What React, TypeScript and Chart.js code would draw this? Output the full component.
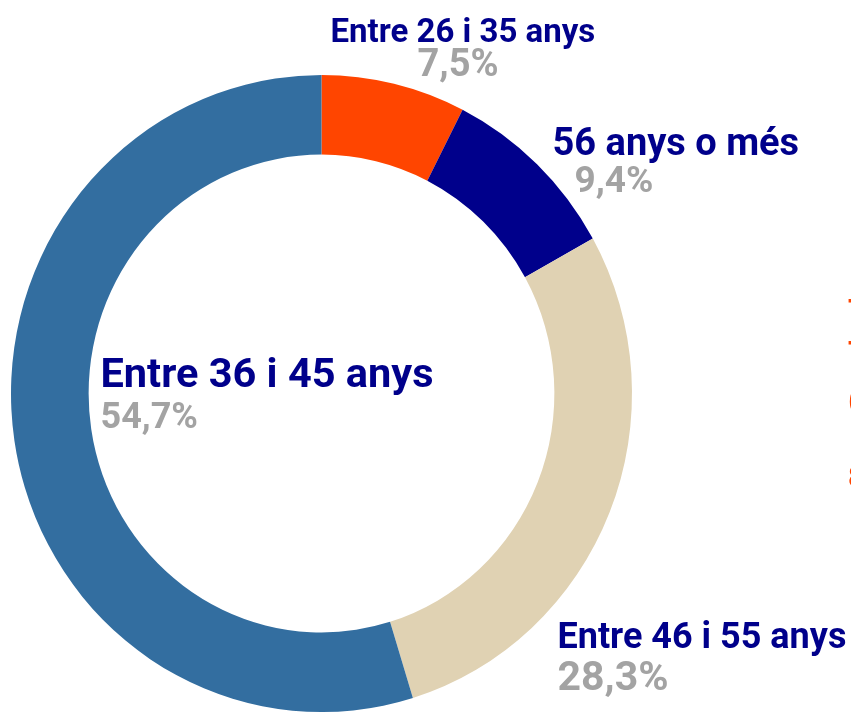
import React, { useEffect, useRef } from "react";
import { Chart, registerables } from "chart.js";

Chart.register(...registerables);

const categories = ["Entre 26 i 35 anys", "56 anys o més", "Entre 46 i 55 anys", "Entre 36 i 45 anys"];
const values = [7.5, 9.4, 28.3, 54.7];
const valueLabels = ["7,5%", "9,4%", "28,3%", "54,7%"];
const colors = ["#FF4500", "#00008B", "#E0D2B3", "#336EA0"];
const sideNotes = ["T", "T", "(", "8"];

// label placement (offsets from donut center) and font sizes
const labelSpec = [
  { dx: 9, dy: -351.5, size: 33, pdx: 96, pdy: -317.5, psize: 38 },
  { dx: 231, dy: -238.5, size: 38, pdx: 253, pdy: -201.5, psize: 37 },
  { dx: 236, dy: 254.5, size: 36, pdx: 236, pdy: 296.5, psize: 41 },
  { dx: -221, dy: -6.5, size: 41.5, pdx: -221, pdy: 34.5, psize: 36 },
];
const noteY = [320, 362, 410, 487];
const yStretch = 1.026;

const stretchPlugin = {
  id: "stretch",
  beforeDatasetsDraw(chart: any) {
    const arc = chart.getDatasetMeta(0).data[0];
    const ctx = chart.ctx;
    ctx.save();
    ctx.translate(0, arc.y);
    ctx.scale(1, yStretch);
    ctx.translate(0, -arc.y);
  },
  afterDatasetsDraw(chart: any) {
    chart.ctx.restore();
  },
};

const labelPlugin = {
  id: "labels",
  afterDraw(chart: any) {
    const ctx = chart.ctx;
    const meta = chart.getDatasetMeta(0);
    const arc = meta.data[0];
    const cx = arc.x;
    const cy = arc.y;
    ctx.save();
    ctx.textAlign = "left";
    ctx.textBaseline = "alphabetic";
    categories.forEach((c, i) => {
      const s = labelSpec[i];
      ctx.fillStyle = "#00008B";
      ctx.font = `bold ${s.size}px Roboto`;
      ctx.fillText(c, cx + s.dx, cy + s.dy);
      ctx.fillStyle = "#A3A3A3";
      ctx.font = `bold ${s.psize}px Roboto`;
      ctx.fillText(valueLabels[i], cx + s.pdx, cy + s.pdy);
    });
    ctx.fillStyle = "#FF4500";
    ctx.font = "bold 30px Roboto";
    sideNotes.forEach((t, i) => {
      ctx.fillText(t, 848, noteY[i]);
    });
    ctx.restore();
  },
};

export default function App() {
  const ref = useRef<HTMLCanvasElement>(null);
  useEffect(() => {
    const chart = new Chart(ref.current!, {
      type: "doughnut",
      data: {
        labels: categories,
        datasets: [
          {
            data: values,
            backgroundColor: colors,
            borderWidth: 0,
          },
        ],
      },
      options: {
        responsive: false,
        animation: false,
        cutout: "75%",
        layout: { padding: { left: 11, right: 219, top: 83, bottom: 9 } },
        plugins: { legend: { display: false }, tooltip: { enabled: false } },
      },
      plugins: [stretchPlugin, labelPlugin],
    });
    return () => chart.destroy();
  }, []);
  return (
    <div style={{ position: "fixed", left: 0, top: 0, width: 851, height: 713, background: "#fff" }}>
      <canvas ref={ref} width={851} height={713} style={{ width: 851, height: 713 }} />
    </div>
  );
}
